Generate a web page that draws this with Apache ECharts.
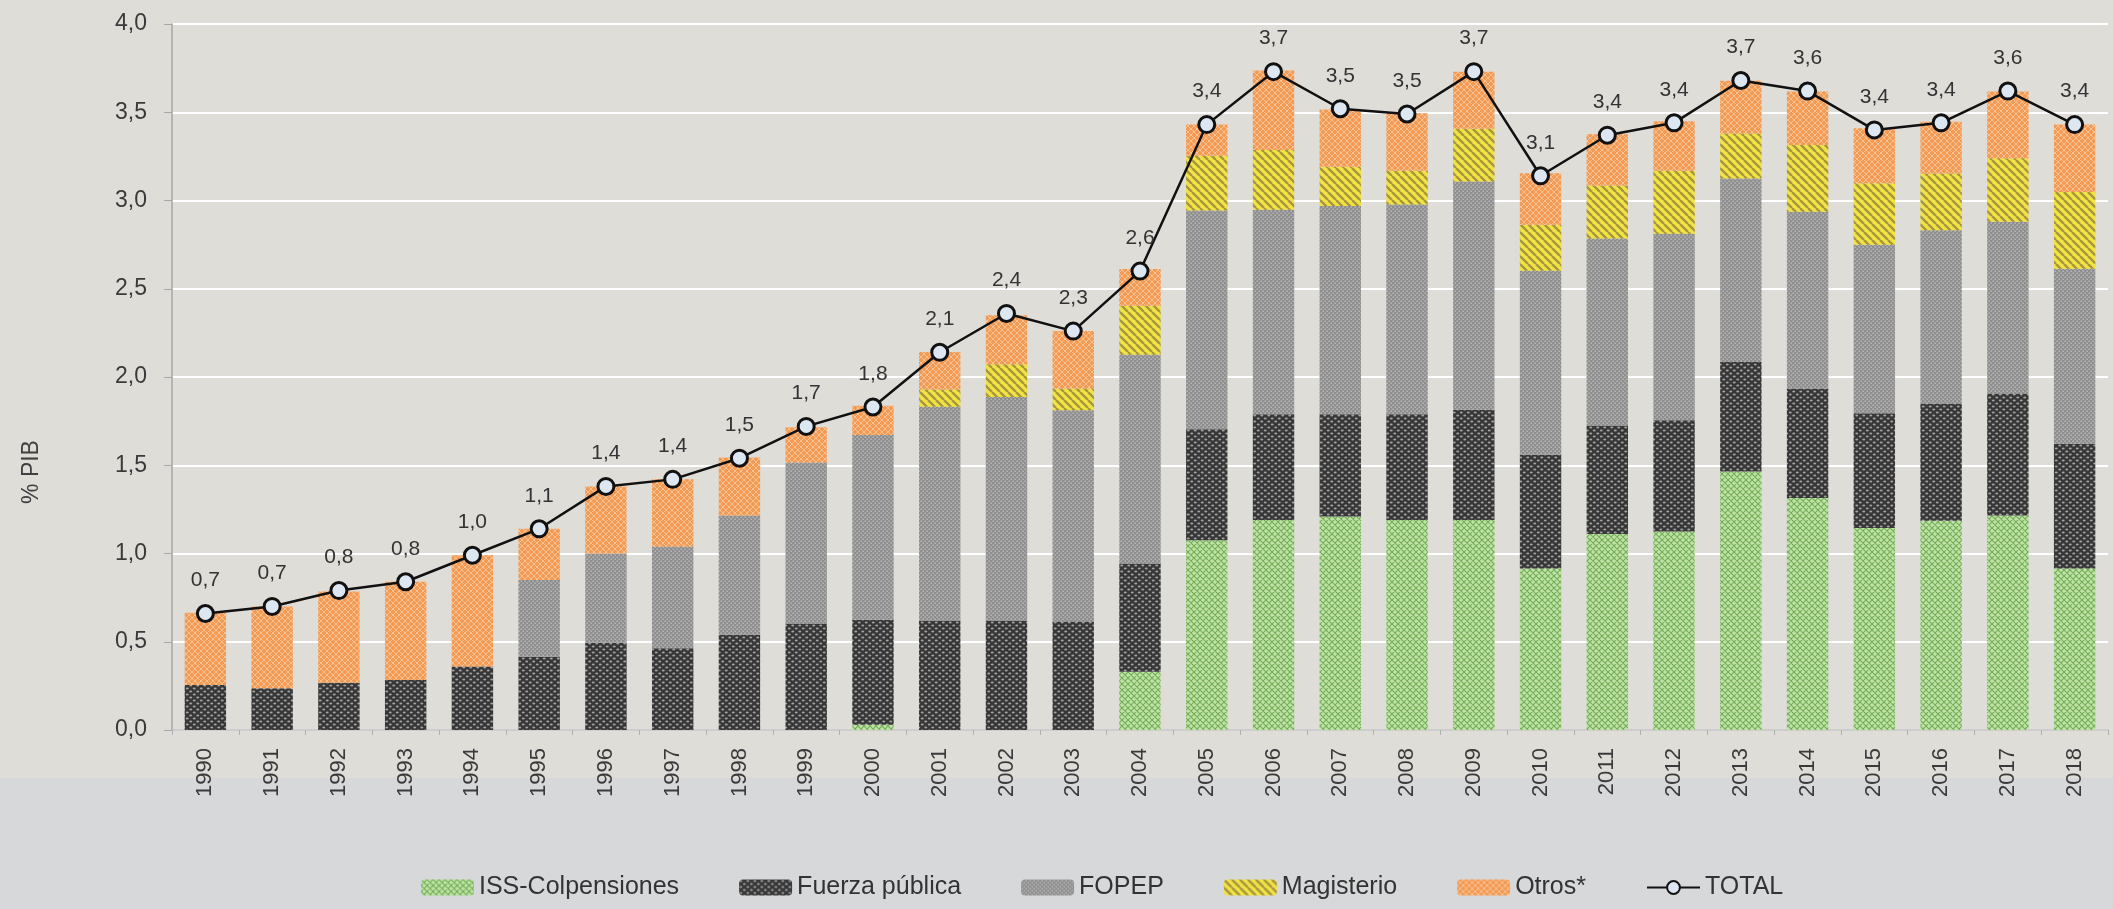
<!DOCTYPE html>
<html>
<head>
<meta charset="utf-8">
<script src="https://cdn.jsdelivr.net/npm/echarts@6/dist/echarts.min.js"></script>
<style>
  html, body { margin: 0; padding: 0; background: #d7d8da; }
  #chart { width: 2113px; height: 909px; }
</style>
</head>
<body>
<div id="chart"></div>
<script>
// datos (% PIB)
var years = ['1990','1991','1992','1993','1994','1995','1996','1997','1998','1999',
             '2000','2001','2002','2003','2004','2005','2006','2007','2008','2009',
             '2010','2011','2012','2013','2014','2015','2016','2017','2018']
var iss = [0,0,0,0,0,0,0,0,0,0,0.03,0,0,0,0.33,1.075,1.19,1.21,1.19,1.19,0.915,1.11,1.125,1.465,1.315,1.145,1.185,1.215,0.915]
var fuerza = [0.255,0.236,0.268,0.283,0.36,0.415,0.495,0.463,0.539,0.603,0.594,0.618,0.618,0.615,0.614,0.629,0.599,0.579,0.599,0.625,0.645,0.615,0.63,0.62,0.62,0.65,0.665,0.692,0.707]
var fopep = [0,0,0,0,0,0.435,0.505,0.577,0.677,0.913,1.048,1.214,1.268,1.196,1.182,1.24,1.159,1.18,1.188,1.292,1.042,1.06,1.056,1.039,1.001,0.954,0.982,0.973,0.992]
var magisterio = [0,0,0,0,0,0,0,0,0,0,0,0.097,0.186,0.124,0.278,0.31,0.338,0.222,0.192,0.299,0.261,0.30,0.357,0.255,0.378,0.349,0.321,0.359,0.434]
var otros = [0.41,0.464,0.517,0.557,0.63,0.29,0.38,0.38,0.328,0.20,0.165,0.213,0.278,0.325,0.208,0.176,0.451,0.325,0.326,0.323,0.291,0.29,0.281,0.30,0.303,0.312,0.293,0.378,0.383]
var total = [0.66,0.70,0.79,0.84,0.99,1.14,1.38,1.42,1.54,1.72,1.83,2.14,2.36,2.26,2.60,3.43,3.73,3.52,3.49,3.73,3.14,3.37,3.44,3.68,3.62,3.40,3.44,3.62,3.43]

var FONT = "'Liberation Sans', Arial, sans-serif"

function pattern(w, h, bg, draw)
{
    var c = document.createElement('canvas')
    c.width = w
    c.height = h
    var ctx = c.getContext('2d')
    ctx.fillStyle = bg
    ctx.fillRect(0, 0, w, h)
    draw(ctx, w, h)
    return { image: c, repeat: 'repeat' }
}

function lattice(col, lw)
{
    return function(ctx, w, h)
    {
        ctx.strokeStyle = col
        ctx.lineWidth = lw
        ctx.beginPath()
        for (var k = -1; k <= 1; k++) {
            ctx.moveTo(k * w, 0); ctx.lineTo(k * w + w, h)
            ctx.moveTo(k * w + w, 0); ctx.lineTo(k * w, h)
        }
        ctx.stroke()
    }
}

var pIss = pattern(6, 6, '#c0e2a6', lattice('#72ae58', 1.1))
var pFuerza = pattern(7, 6, '#373737', function(ctx) {
    ctx.fillStyle = '#a3a3a3'
    ctx.beginPath(); ctx.ellipse(1.75, 1.5, 1.5, 1.0, 0, 0, Math.PI * 2); ctx.fill()
    ctx.beginPath(); ctx.ellipse(5.25, 4.5, 1.5, 1.0, 0, 0, Math.PI * 2); ctx.fill()
})
var pFopep = pattern(4, 4, '#8e8e8e', function(ctx) {
    ctx.fillStyle = '#c8c8c8'
    ctx.fillRect(0.5, 0.5, 1.3, 1.3)
    ctx.fillRect(2.5, 2.5, 1.3, 1.3)
})
var pMag = pattern(8, 8, '#f2e244', function(ctx) {
    ctx.strokeStyle = '#a59740'
    ctx.lineWidth = 2.4
    ctx.beginPath()
    for (var k = -1; k <= 1; k++) {
        ctx.moveTo(k * 8, 0); ctx.lineTo(k * 8 + 8, 8)
    }
    ctx.stroke()
})
var pOtros = pattern(6, 6, '#f39a55', lattice('#f9c69a', 0.9))

function fmt(v) { return v.toFixed(1).replace('.', ',') }

function barSeries(name, data, fill)
{
    return {
        name: name,
        type: 'bar',
        stack: 'pib',
        data: data,
        barCategoryGap: '38%',
        itemStyle: { color: fill },
        emphasis: { disabled: true }
    }
}

var chart = echarts.init(document.getElementById('chart'))

var option = {
    backgroundColor: '#d7d8da',
    animation: false,
    graphic: [
        { type: 'rect', z: -10, shape: { x: 0, y: 0, width: 2113, height: 778 }, style: { fill: '#dfddd8' } },
        { type: 'text', x: 32, y: 472, rotation: Math.PI / 2,
          style: { text: '% PIB', font: '23px ' + FONT, fill: '#404040', align: 'center', verticalAlign: 'middle' } }
    ],
    grid: { left: 172, right: 5, top: 24, bottom: 179 },
    legend: {
        bottom: 4,
        left: 416,
        itemWidth: 53,
        itemHeight: 16,
        itemGap: 60,
        textStyle: { fontFamily: FONT, fontSize: 25, color: '#333' },
        data: ['ISS-Colpensiones', 'Fuerza pública', 'FOPEP', 'Magisterio', 'Otros*', 'TOTAL']
    },
    xAxis: {
        type: 'category',
        data: years,
        axisLine: { lineStyle: { color: '#bdbdbd', width: 1.5 } },
        axisTick: { show: true, length: 5, lineStyle: { color: '#b0b0b0' } },
        axisLabel: { rotate: 90, margin: 18, fontFamily: FONT, fontSize: 22, color: '#3a3a3a' }
    },
    yAxis: {
        type: 'value',
        min: 0,
        max: 4,
        interval: 0.5,
        axisLine: { show: true, lineStyle: { color: '#a6a6a6', width: 1.5 } },
        axisTick: { show: true, length: 8, lineStyle: { color: '#a6a6a6' } },
        splitLine: { lineStyle: { color: '#ffffff', width: 2 } },
        axisLabel: { margin: 25, fontFamily: FONT, fontSize: 23, color: '#3a3a3a', formatter: fmt }
    },
    series: [
        barSeries('ISS-Colpensiones', iss, pIss),
        barSeries('Fuerza pública', fuerza, pFuerza),
        barSeries('FOPEP', fopep, pFopep),
        barSeries('Magisterio', magisterio, pMag),
        barSeries('Otros*', otros, pOtros),
        {
            name: 'TOTAL',
            type: 'line',
            data: total,
            z: 5,
            symbol: 'circle',
            symbolSize: 16,
            lineStyle: { color: '#111', width: 2.5 },
            itemStyle: { color: '#dde7f1', borderColor: '#111', borderWidth: 3 },
            label: {
                show: true,
                position: 'top',
                distance: 13,
                fontFamily: FONT,
                fontSize: 21,
                color: '#333',
                formatter: function(p) { return fmt(p.value) }
            },
            emphasis: { disabled: true }
        }
    ]
}

chart.setOption(option)
</script>
</body>
</html>
